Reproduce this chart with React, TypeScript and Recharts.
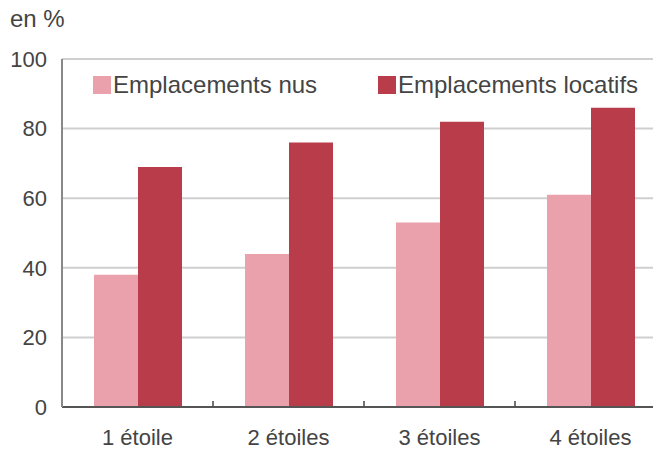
import React from "react";
import {
  BarChart,
  Bar,
  XAxis,
  YAxis,
  CartesianGrid,
  Legend,
} from "recharts";

const categories = ["1 étoile", "2 étoiles", "3 étoiles", "4 étoiles"];
const nus = [38, 44, 53, 61];
const locatifs = [69, 76, 82, 86];
const yTicks = [0, 20, 40, 60, 80, 100];

const seriesNames = ["Emplacements nus", "Emplacements locatifs"];
const colors = ["#eaa1ab", "#b93c4b"];

const data = categories.map((c, i) => ({
  cat: c,
  nus: nus[i],
  locatifs: locatifs[i],
}));

const FONT = "'Liberation Sans', Arial, sans-serif";
const X_TICK_MARGIN = 22;

function LegendContent() {
  return (
    <div style={{ display: "flex", fontFamily: FONT, fontSize: 24, color: "#444" }}>
      {seriesNames.map((n, i) => (
        <div
          key={n}
          style={{ display: "flex", alignItems: "center", width: i === 0 ? 285 : "auto" }}
        >
          <span
            style={{
              display: "inline-block",
              width: 18,
              height: 18,
              background: colors[i],
              marginRight: 2,
            }}
          />
          <span>{n}</span>
        </div>
      ))}
    </div>
  );
}

// category label + small tick mark on the boundary to the next category
function CatTick(props: any) {
  const { x, y, payload, index } = props;
  const axisY = y - X_TICK_MARGIN;
  const bx = x + (payload.offset || 0);
  return (
    <g>
      {index < categories.length - 1 && (
        <line x1={bx} x2={bx} y1={axisY - 1} y2={axisY - 6} stroke="#444" strokeWidth={1.5} />
      )}
      <text
        x={x}
        y={y}
        dy="0.71em"
        textAnchor="middle"
        fill="#444"
        fontSize={22}
        fontFamily={FONT}
      >
        {payload.value}
      </text>
    </g>
  );
}

export default function App() {
  return (
    <div
      style={{
        position: "absolute",
        left: 0,
        top: 0,
        width: 653,
        height: 454,
        overflow: "hidden",
        background: "#fff",
      }}
    >
      <div
        style={{
          position: "absolute",
          left: 10,
          top: 5,
          fontFamily: FONT,
          fontSize: 24,
          color: "#444",
        }}
      >
        en %
      </div>
      <BarChart
        width={680}
        height={454}
        data={data}
        margin={{ top: 59, right: 14, left: 0, bottom: 0 }}
        barCategoryGap={32}
        barGap={0}
      >
        <CartesianGrid horizontal vertical={false} stroke="#cfcfcf" strokeWidth={2} />
        <XAxis
          dataKey="cat"
          height={47}
          tickSize={0}
          tickMargin={X_TICK_MARGIN}
          axisLine={{ stroke: "#555", strokeWidth: 2 }}
          tick={<CatTick />}
        />
        <YAxis
          width={62}
          domain={[0, 100]}
          ticks={yTicks}
          tickSize={0}
          tickMargin={15}
          axisLine={{ stroke: "#888", strokeWidth: 2 }}
          tick={{ fill: "#444", fontSize: 22, fontFamily: FONT }}
        />
        <Legend
          verticalAlign="middle"
          layout="horizontal"
          content={<LegendContent />}
          wrapperStyle={{ position: "absolute", left: 93, top: 71, width: "auto" }}
        />
        <Bar dataKey="nus" name={seriesNames[0]} fill={colors[0]} isAnimationActive={false} />
        <Bar
          dataKey="locatifs"
          name={seriesNames[1]}
          fill={colors[1]}
          isAnimationActive={false}
        />
      </BarChart>
    </div>
  );
}
